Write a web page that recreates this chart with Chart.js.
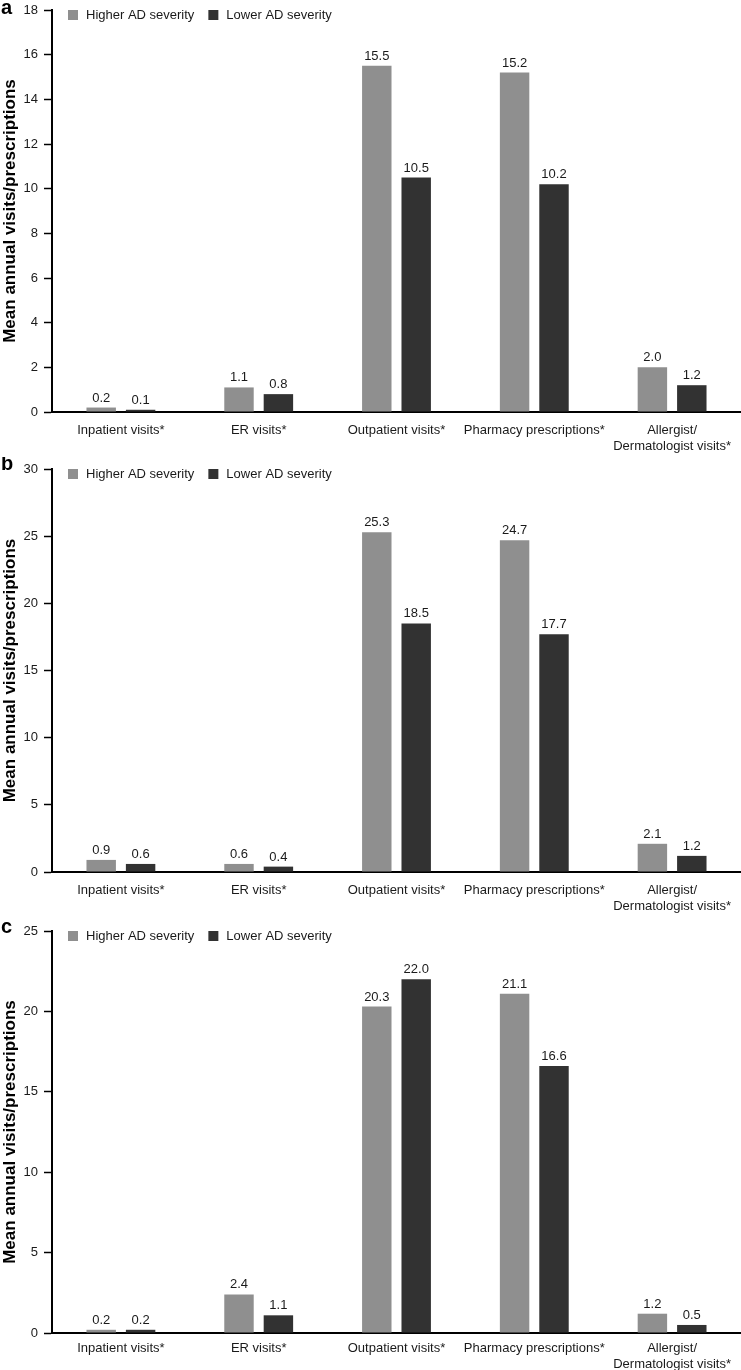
<!DOCTYPE html>
<html>
<head>
<meta charset="utf-8">
<script src="https://cdn.jsdelivr.net/npm/chart.js@4.4.1/dist/chart.umd.min.js"></script>
<style>
  html, body { margin: 0; padding: 0; background: #fff; }
  canvas { display: block; }
</style>
</head>
<body>
<canvas id="chartA" width="741" height="457"></canvas>
<canvas id="chartB" width="741" height="458"></canvas>
<canvas id="chartC" width="741" height="455"></canvas>
<script>
const categories = [
  'Inpatient visits*',
  'ER visits*',
  'Outpatient visits*',
  'Pharmacy prescriptions*',
  ['Allergist/', 'Dermatologist visits*']
];
const seriesNames = ['Higher AD severity', 'Lower AD severity'];

const higherA = [0.2, 1.1, 15.5, 15.2, 2.0];
const lowerA = [0.1, 0.8, 10.5, 10.2, 1.2];
const higherB = [0.9, 0.6, 25.3, 24.7, 2.1];
const lowerB = [0.6, 0.4, 18.5, 17.7, 1.2];
const higherC = [0.2, 2.4, 20.3, 21.1, 1.2];
const lowerC = [0.2, 1.1, 22.0, 16.6, 0.5];

const yMaxA = 18, yStepA = 2;
const yMaxB = 30, yStepB = 5;
const yMaxC = 25, yStepC = 5;

const FONT = "'Liberation Sans', Arial, Helvetica, sans-serif";
const TEXT = '#1a1a1a';
const GRAY = '#8f8f8f';
const DARK = '#323232';

// value labels above bars + legend inside the plot + panel letter
const decor = {
  id: 'decor',
  afterDatasetsDraw(chart, args, opts) {
    const ctx = chart.ctx;
    const area = chart.chartArea;
    ctx.save();
    ctx.fillStyle = TEXT;
    ctx.font = '13px ' + FONT;
    ctx.textAlign = 'center';
    ctx.textBaseline = 'alphabetic';
    chart.data.datasets.forEach((ds, i) => {
      chart.getDatasetMeta(i).data.forEach((bar, j) => {
        ctx.fillText(ds.data[j].toFixed(1), bar.x, bar.y - 6);
      });
    });

    // legend
    ctx.textAlign = 'left';
    ctx.textBaseline = 'middle';
    let x = area.left + 16;
    const cy = area.top + 5;
    chart.data.datasets.forEach(ds => {
      ctx.fillStyle = ds.backgroundColor;
      ctx.fillRect(x, cy - 5, 10, 10);
      ctx.fillStyle = TEXT;
      ctx.fillText(ds.label, x + 18, cy);
      x += 18 + ctx.measureText(ds.label).width + 14;
    });

    // panel letter
    ctx.font = 'bold 20px ' + FONT;
    ctx.fillStyle = '#000';
    ctx.textBaseline = 'alphabetic';
    ctx.fillText(opts.letter, 1, area.top + opts.letterDy);
    ctx.restore();
  }
};

const makeChart = (id, higher, lower, yMax, yStep, top, bottom, letter, letterDy, labelPad) => {
  const canvas = document.getElementById(id);
  const h = canvas.height;
  return new Chart(canvas, {
    type: 'bar',
    data: {
      labels: categories,
      datasets: [
        { label: seriesNames[0], data: higher, backgroundColor: GRAY,
          categoryPercentage: 0.572, barPercentage: 0.747 },
        { label: seriesNames[1], data: lower, backgroundColor: DARK,
          categoryPercentage: 0.572, barPercentage: 0.747 }
      ]
    },
    options: {
      responsive: false,
      animation: false,
      devicePixelRatio: 1,
      layout: { padding: { top: top, left: 0, right: 0, bottom: 0 } },
      plugins: {
        legend: { display: false },
        tooltip: { enabled: false },
        decor: { letter: letter, letterDy: letterDy }
      },
      scales: {
        x: {
          grid: { display: false },
          border: { display: true, color: '#000', width: 2 },
          ticks: { color: TEXT, font: { family: FONT, size: 13, lineHeight: 1.2 }, padding: labelPad, maxRotation: 0, autoSkip: false },
          afterFit: s => { s.height = h - bottom; s.paddingLeft = 0; s.paddingRight = 0; }
        },
        y: {
          min: 0,
          max: yMax,
          ticks: { stepSize: yStep, color: TEXT, font: { family: FONT, size: 13 }, padding: 6 },
          grid: { drawOnChartArea: false, drawTicks: true, tickLength: 8, tickColor: '#000', tickWidth: 1.5 },
          border: { display: true, color: '#000', width: 2 },
          title: {
            display: true,
            text: 'Mean annual visits/prescriptions',
            color: '#000',
            font: { family: FONT, size: 17, weight: 'bold' },
            padding: { top: 0, bottom: 0 }
          },
          afterFit: s => { s.width = 52; s.paddingTop = 0; s.paddingBottom = 0; }
        }
      }
    },
    plugins: [decor]
  });
};

makeChart('chartA', higherA, lowerA, yMaxA, yStepA, 10, 412, 'a', 4, 3);
makeChart('chartB', higherB, lowerB, yMaxB, yStepB, 12, 415, 'b', 1, 3);
makeChart('chartC', higherC, lowerC, yMaxC, yStepC, 16, 418, 'c', 2, 0);
</script>
</body>
</html>
